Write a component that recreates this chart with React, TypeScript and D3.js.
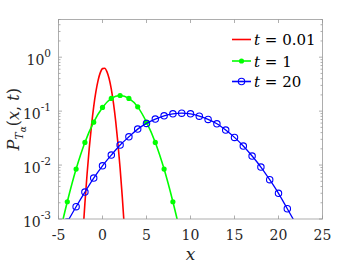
import React, { useRef, useEffect } from 'react';
import * as d3 from 'd3';

// t = 0.01 (smooth line, no markers)
const redX = [-2.5, -2.25, -2, -1.75, -1.5, -1.25, -1, -0.75, -0.5, -0.25, 0, 0.25, 0.5, 0.75, 1, 1.25, 1.5, 1.75, 2, 2.25, 2.5, 2.75];
const redY = [9.7e-5, 4.7e-4, 1.95e-3, 6.9e-3, 0.021, 0.054, 0.121, 0.229, 0.372, 0.517, 0.614, 0.623, 0.541, 0.402, 0.256, 0.139, 0.0647, 0.0257, 0.00875, 0.00255, 6.3e-4, 1.35e-4];

// t = 1 (filled dots)
const greenX = [-5, -4, -3, -2, -1, 0, 1, 2, 3, 4, 5, 6, 7, 8, 9];
const greenY = [4.3e-4, 0.00209, 0.00843, 0.0263, 0.0625, 0.117, 0.172, 0.195, 0.172, 0.12, 0.0625, 0.0263, 0.00843, 0.00209, 4.3e-4];

// t = 20 (open circles)
const blueX = [-4, -3, -2, -1, 0, 1, 2, 3, 4, 5, 6, 7, 8, 9, 10, 11, 12, 13, 14, 15, 16, 17, 18, 19, 20, 21, 22];
const blueY = [0.00088, 0.00169, 0.00316, 0.00574, 0.0097, 0.0153, 0.0235, 0.0334, 0.0464, 0.0592, 0.0711, 0.0818, 0.0891, 0.0918, 0.0891, 0.0808, 0.0702, 0.0582, 0.0445, 0.0326, 0.0225, 0.0147, 0.00919, 0.00535, 0.00299, 0.00155, 0.0008];

const xTicks = [-5, 0, 5, 10, 15, 20, 25];
const yTicks = [1e-3, 1e-2, 1e-1, 1];
const yTickExp = ['-3', '-2', '-1', '0'];
const legendLabels = ['0.01', '1', '20'];

const W = 357;
const H = 268;
const L = 58.5, R = 322.5, T = 19.5, B = 219;
const serif = "'DejaVu Serif', serif";

export default function App() {
  const ref = useRef<SVGSVGElement>(null);

  useEffect(() => {
    if (!ref.current) return;
    const svg = d3.select(ref.current);
    svg.selectAll('*').remove();

    const x = d3.scaleLinear().domain([-5, 25]).range([L, R]);
    const y = d3.scaleLog().domain([1e-3, 5]).range([B, T]);

    svg.append('rect').attr('width', W).attr('height', H).attr('fill', '#fff');

    svg.append('defs').append('clipPath').attr('id', 'plotclip')
      .append('rect').attr('x', L).attr('y', T).attr('width', R - L).attr('height', B - T);

    // ticks (inward, mirrored on top/right)
    const ax = svg.append('g').attr('stroke', '#9a9a9a').attr('stroke-width', 0.8);
    xTicks.forEach(v => {
      ax.append('line').attr('x1', x(v)).attr('x2', x(v)).attr('y1', B).attr('y2', B - 3.5);
      ax.append('line').attr('x1', x(v)).attr('x2', x(v)).attr('y1', T).attr('y2', T + 3.5);
    });
    const minor: number[] = [];
    [1e-3, 1e-2, 1e-1, 1].forEach(d => {
      for (let k = 2; k <= 9; k++) if (d * k <= 5) minor.push(d * k);
    });
    yTicks.forEach(v => {
      ax.append('line').attr('x1', L).attr('x2', L + 3.5).attr('y1', y(v)).attr('y2', y(v));
      ax.append('line').attr('x1', R).attr('x2', R - 3.5).attr('y1', y(v)).attr('y2', y(v));
    });
    minor.forEach(v => {
      ax.append('line').attr('x1', L).attr('x2', L + 2).attr('y1', y(v)).attr('y2', y(v));
      ax.append('line').attr('x1', R).attr('x2', R - 2).attr('y1', y(v)).attr('y2', y(v));
    });

    // curves
    const plot = svg.append('g').attr('clip-path', 'url(#plotclip)');
    const line = d3.line<[number, number]>()
      .x(d => x(d[0]))
      .y(d => y(d[1]))
      .curve(d3.curveMonotoneX);

    const redPts = redX.map((v, i) => [v, redY[i]] as [number, number]);
    const greenPts = greenX.map((v, i) => [v, greenY[i]] as [number, number]);
    const bluePts = blueX.map((v, i) => [v, blueY[i]] as [number, number]);

    plot.append('path').attr('d', line(redPts)).attr('fill', 'none')
      .attr('stroke', '#ff0000').attr('stroke-width', 1.6);

    plot.append('path').attr('d', line(greenPts)).attr('fill', 'none')
      .attr('stroke', '#00ff00').attr('stroke-width', 1.6);
    plot.selectAll('.gdot').data(greenPts).join('circle')
      .attr('class', 'gdot')
      .attr('cx', d => x(d[0])).attr('cy', d => y(d[1])).attr('r', 2.6)
      .attr('fill', '#00ff00');

    plot.append('path').attr('d', line(bluePts)).attr('fill', 'none')
      .attr('stroke', '#0000ff').attr('stroke-width', 1.3);
    plot.selectAll('.bdot').data(bluePts).join('circle')
      .attr('class', 'bdot')
      .attr('cx', d => x(d[0])).attr('cy', d => y(d[1])).attr('r', 3.2)
      .attr('fill', 'none').attr('stroke', '#0000ff').attr('stroke-width', 1.1);

    // box
    svg.append('rect').attr('x', L).attr('y', T).attr('width', R - L).attr('height', B - T)
      .attr('fill', 'none').attr('stroke', '#9a9a9a').attr('stroke-width', 0.8);

    // x tick labels
    svg.selectAll('.xt').data(xTicks).join('text')
      .attr('class', 'xt')
      .attr('x', d => x(d)).attr('y', 240)
      .attr('text-anchor', 'middle')
      .style('font-family', serif).attr('font-size', 14).attr('fill', '#262626')
      .text(d => String(d));

    // y tick labels 10^n
    yTicks.forEach((v, i) => {
      const t = svg.append('text')
        .attr('x', 51).attr('y', y(v) + 8)
        .attr('text-anchor', 'end')
        .style('font-family', serif).attr('font-size', 14).attr('fill', '#262626');
      t.append('tspan').text('10');
      t.append('tspan').attr('dy', -8).attr('font-size', 10.5).text(yTickExp[i]);
    });

    // axis labels
    svg.append('text').attr('x', (L + R) / 2).attr('y', 260)
      .attr('text-anchor', 'middle')
      .style('font-family', serif).attr('font-size', 17).attr('font-style', 'italic')
      .attr('fill', '#262626').text('x');

    const yl = svg.append('text')
      .attr('transform', `translate(19, ${(T + B) / 2}) rotate(-90)`)
      .attr('text-anchor', 'middle')
      .style('font-family', serif).attr('font-size', 16).attr('fill', '#262626');
    yl.append('tspan').attr('font-style', 'italic').text('P');
    yl.append('tspan').attr('font-style', 'italic').attr('font-size', 11).attr('dy', 4).text('T');
    yl.append('tspan').attr('font-style', 'italic').attr('font-size', 9).attr('dy', 3).text('α');
    yl.append('tspan').attr('dy', -7).text('(');
    yl.append('tspan').attr('font-style', 'italic').text('x');
    yl.append('tspan').text(', ');
    yl.append('tspan').attr('font-style', 'italic').text('t');
    yl.append('tspan').text(')');

    // legend
    const colors = ['#ff0000', '#00ff00', '#0000ff'];
    const rowsY = [39.5, 61, 81.5];
    const lg = svg.append('g');
    legendLabels.forEach((lab, i) => {
      const ry = rowsY[i];
      lg.append('line').attr('x1', 232).attr('x2', 251).attr('y1', ry).attr('y2', ry)
        .attr('stroke', colors[i]).attr('stroke-width', 1.6);
      if (i === 1) {
        lg.append('circle').attr('cx', 241.5).attr('cy', ry).attr('r', 2.6).attr('fill', colors[i]);
      }
      if (i === 2) {
        lg.append('circle').attr('cx', 241.5).attr('cy', ry).attr('r', 3.2)
          .attr('fill', 'none').attr('stroke', colors[i]).attr('stroke-width', 1.1);
      }
      const t = lg.append('text').attr('x', 254).attr('y', ry + 5.5)
        .style('font-family', serif).attr('font-size', 15).attr('fill', '#000');
      t.append('tspan').attr('font-style', 'italic').text('t');
      t.append('tspan').text(' = ' + lab);
    });
  }, []);

  return (
    <svg ref={ref} width={W} height={H} style={{ position: 'absolute', left: 0, top: 0 }}></svg>
  );
}
